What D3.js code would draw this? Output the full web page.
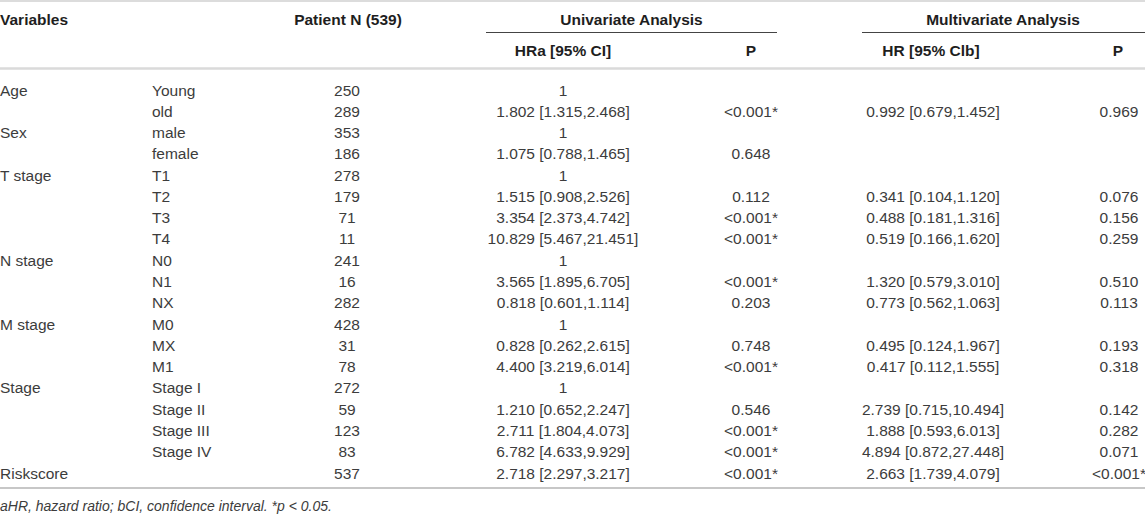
<!DOCTYPE html>
<html>
<head>
<meta charset="utf-8">
<script src="https://cdn.jsdelivr.net/npm/d3@7/dist/d3.min.js"></script>
<style>
  html, body { margin: 0; padding: 0; background: #fff; }
  svg { display: block; }
  text { font-family: "Liberation Sans", Arial, Helvetica, sans-serif; }
</style>
</head>
<body>
<svg id="chart" width="1145" height="519"></svg>
<script>
// ---------- data ----------
const variables = ["Age", "", "Sex", "", "T stage", "", "", "", "N stage", "", "", "M stage", "", "", "Stage", "", "", "", "Riskscore"];
const subgroups = ["Young", "old", "male", "female", "T1", "T2", "T3", "T4", "N0", "N1", "NX", "M0", "MX", "M1", "Stage I", "Stage II", "Stage III", "Stage IV", ""];
const patientN = ["250", "289", "353", "186", "278", "179", "71", "11", "241", "16", "282", "428", "31", "78", "272", "59", "123", "83", "537"];
const uniHR = ["1", "1.802 [1.315,2.468]", "1", "1.075 [0.788,1.465]", "1", "1.515 [0.908,2.526]", "3.354 [2.373,4.742]", "10.829 [5.467,21.451]", "1", "3.565 [1.895,6.705]", "0.818 [0.601,1.114]", "1", "0.828 [0.262,2.615]", "4.400 [3.219,6.014]", "1", "1.210 [0.652,2.247]", "2.711 [1.804,4.073]", "6.782 [4.633,9.929]", "2.718 [2.297,3.217]"];
const uniP = ["", "<0.001*", "", "0.648", "", "0.112", "<0.001*", "<0.001*", "", "<0.001*", "0.203", "", "0.748", "<0.001*", "", "0.546", "<0.001*", "<0.001*", "<0.001*"];
const multiHR = ["", "0.992 [0.679,1.452]", "", "", "", "0.341 [0.104,1.120]", "0.488 [0.181,1.316]", "0.519 [0.166,1.620]", "", "1.320 [0.579,3.010]", "0.773 [0.562,1.063]", "", "0.495 [0.124,1.967]", "0.417 [0.112,1.555]", "", "2.739 [0.715,10.494]", "1.888 [0.593,6.013]", "4.894 [0.872,27.448]", "2.663 [1.739,4.079]"];
const multiP = ["", "0.969", "", "", "", "0.076", "0.156", "0.259", "", "0.510", "0.113", "", "0.193", "0.318", "", "0.142", "0.282", "0.071", "<0.001*"];

const headerTop = ["Variables", "Patient N (539)", "Univariate Analysis", "Multivariate Analysis"];
const headerSub = ["HRa [95% CI]", "P", "HR [95% Clb]", "P"];
const footnote = "aHR, hazard ratio; bCI, confidence interval. *p < 0.05.";

// ---------- layout ----------
const W = 1145, H = 519;
const svg = d3.select("#chart");
const fs = 15.5;
const bodyColor = "#3c3c3c";
const headColor = "#1e1e1e";

const rows = d3.range(variables.length);
const y = d3.scalePoint().domain(rows).range([90, 473]);

// column anchors
const cols = [
  { key: "variables", data: variables, x: 0, anchor: "start" },
  { key: "subgroups", data: subgroups, x: 152, anchor: "start" },
  { key: "patientN", data: patientN, x: 347, anchor: "middle" },
  { key: "uniHR", data: uniHR, x: 563, anchor: "middle" },
  { key: "uniP", data: uniP, x: 751, anchor: "middle" },
  { key: "multiHR", data: multiHR, x: 933, anchor: "middle" },
  { key: "multiP", data: multiP, x: 1119, anchor: "middle" }
];

// lines
svg.append("line").attr("x1", 0).attr("x2", W).attr("y1", 1).attr("y2", 1)
  .attr("stroke", "#dcdcdc").attr("stroke-width", 2);
svg.append("line").attr("x1", 486).attr("x2", 777).attr("y1", 32.5).attr("y2", 32.5)
  .attr("stroke", "#444").attr("stroke-width", 1.2);
svg.append("line").attr("x1", 862).attr("x2", W).attr("y1", 32.5).attr("y2", 32.5)
  .attr("stroke", "#444").attr("stroke-width", 1.2);
svg.append("line").attr("x1", 0).attr("x2", W).attr("y1", 68.5).attr("y2", 68.5)
  .attr("stroke", "#dadada").attr("stroke-width", 2.5);
svg.append("line").attr("x1", 0).attr("x2", W).attr("y1", 488).attr("y2", 488)
  .attr("stroke", "#b4b4b4").attr("stroke-width", 1.5);

// header row 1
const h1 = [
  { t: headerTop[0], x: 0, a: "start" },
  { t: headerTop[1], x: 348, a: "middle" },
  { t: headerTop[2], x: 631.5, a: "middle" },
  { t: headerTop[3], x: 1003, a: "middle" }
];
svg.append("g").selectAll("text").data(h1).join("text")
  .attr("x", d => d.x).attr("y", 19)
  .attr("text-anchor", d => d.a)
  .attr("dominant-baseline", "central")
  .attr("font-size", fs).attr("font-weight", "bold").attr("fill", headColor)
  .text(d => d.t);

// header row 2
const h2x = [563, 751, 931, 1118];
svg.append("g").selectAll("text").data(headerSub).join("text")
  .attr("x", (d, i) => h2x[i]).attr("y", 50)
  .attr("text-anchor", "middle")
  .attr("dominant-baseline", "central")
  .attr("font-size", fs).attr("font-weight", "bold").attr("fill", headColor)
  .text(d => d);

// body
cols.forEach(c => {
  svg.append("g").attr("class", c.key).selectAll("text")
    .data(c.data.map((v, i) => ({ v, i })).filter(d => d.v !== ""))
    .join("text")
    .attr("x", c.x).attr("y", d => y(d.i))
    .attr("text-anchor", c.anchor)
    .attr("dominant-baseline", "central")
    .attr("font-size", fs).attr("fill", bodyColor)
    .text(d => d.v);
});

// footnote
svg.append("text").attr("x", 0).attr("y", 506)
  .attr("dominant-baseline", "central")
  .attr("font-size", 14).attr("font-style", "italic").attr("fill", bodyColor)
  .text(footnote);
</script>
</body>
</html>
